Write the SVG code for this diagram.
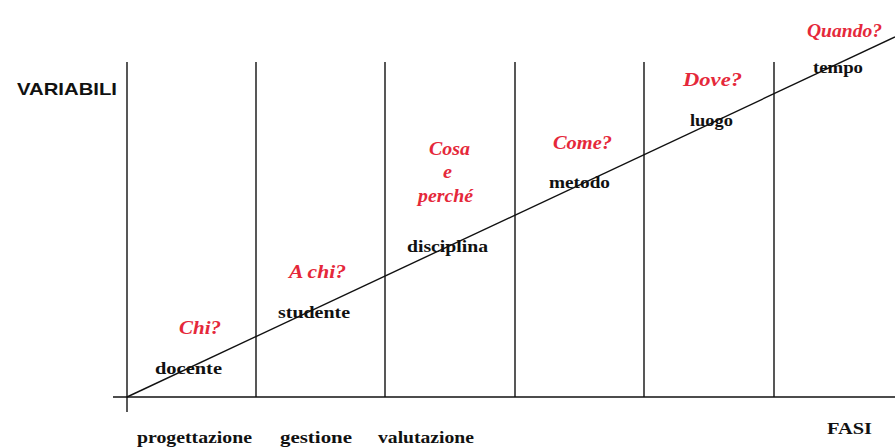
<svg xmlns="http://www.w3.org/2000/svg" width="895" height="447" viewBox="0 0 895 447">
<style>
.q{font-family:"Liberation Serif","Times New Roman",serif;font-style:italic;font-weight:bold;font-size:18px;fill:#e5283a}
.v{font-family:"Liberation Serif","Times New Roman",serif;font-weight:bold;font-size:17px;fill:#111}
.ax{font-family:"Liberation Sans",Arial,sans-serif;font-weight:bold;font-size:17px;fill:#111}
.ln{stroke:#111;stroke-width:1.4;fill:none}
</style>
<rect width="895" height="447" fill="#fff"/>
<g id="connectors">
<line class="ln" x1="113" y1="397" x2="895" y2="397" stroke-width="1.8"/>
<line class="ln" x1="127" y1="62" x2="127" y2="412"/>
<line class="ln" x1="256" y1="62" x2="256" y2="397"/>
<line class="ln" x1="385" y1="62" x2="385" y2="397"/>
<line class="ln" x1="515" y1="62" x2="515" y2="397"/>
<line class="ln" x1="644" y1="62" x2="644" y2="397"/>
<line class="ln" x1="774" y1="62" x2="774" y2="397"/>
<line class="ln" x1="127" y1="397" x2="895" y2="37" stroke-width="1.2"/>
</g>
<g id="axis-variabili"><text class="ax" x="17" y="95" textLength="100" lengthAdjust="spacingAndGlyphs">VARIABILI</text></g>
<g id="axis-fasi"><text class="v" x="827" y="434" textLength="45" lengthAdjust="spacingAndGlyphs">FASI</text></g>
<g id="fase-progettazione"><text class="v" x="137" y="443" textLength="115" lengthAdjust="spacingAndGlyphs">progettazione</text></g>
<g id="fase-gestione"><text class="v" x="280" y="443" textLength="72" lengthAdjust="spacingAndGlyphs">gestione</text></g>
<g id="fase-valutazione"><text class="v" x="378" y="443" textLength="96" lengthAdjust="spacingAndGlyphs">valutazione</text></g>
<g id="docente">
<text class="q" x="179" y="334" textLength="42" lengthAdjust="spacingAndGlyphs">Chi?</text>
<text class="v" x="155" y="374" textLength="67" lengthAdjust="spacingAndGlyphs">docente</text>
</g>
<g id="studente">
<text class="q" x="289" y="278" textLength="57" lengthAdjust="spacingAndGlyphs">A chi?</text>
<text class="v" x="278" y="318" textLength="72" lengthAdjust="spacingAndGlyphs">studente</text>
</g>
<g id="disciplina">
<text class="q" x="429" y="155" textLength="41" lengthAdjust="spacingAndGlyphs">Cosa</text>
<text class="q" x="443" y="178" textLength="9" lengthAdjust="spacingAndGlyphs">e</text>
<text class="q" x="418" y="202" textLength="55" lengthAdjust="spacingAndGlyphs">perché</text>
<text class="v" x="407" y="252" textLength="81" lengthAdjust="spacingAndGlyphs">disciplina</text>
</g>
<g id="metodo">
<text class="q" x="553" y="149" textLength="59" lengthAdjust="spacingAndGlyphs">Come?</text>
<text class="v" x="549" y="188" textLength="61" lengthAdjust="spacingAndGlyphs">metodo</text>
</g>
<g id="luogo">
<text class="q" x="683" y="86" textLength="59" lengthAdjust="spacingAndGlyphs">Dove?</text>
<text class="v" x="690" y="126" textLength="43" lengthAdjust="spacingAndGlyphs">luogo</text>
</g>
<g id="tempo">
<text class="q" x="807" y="37" textLength="75" lengthAdjust="spacingAndGlyphs">Quando?</text>
<text class="v" x="813" y="73" textLength="50" lengthAdjust="spacingAndGlyphs">tempo</text>
</g>
</svg>
